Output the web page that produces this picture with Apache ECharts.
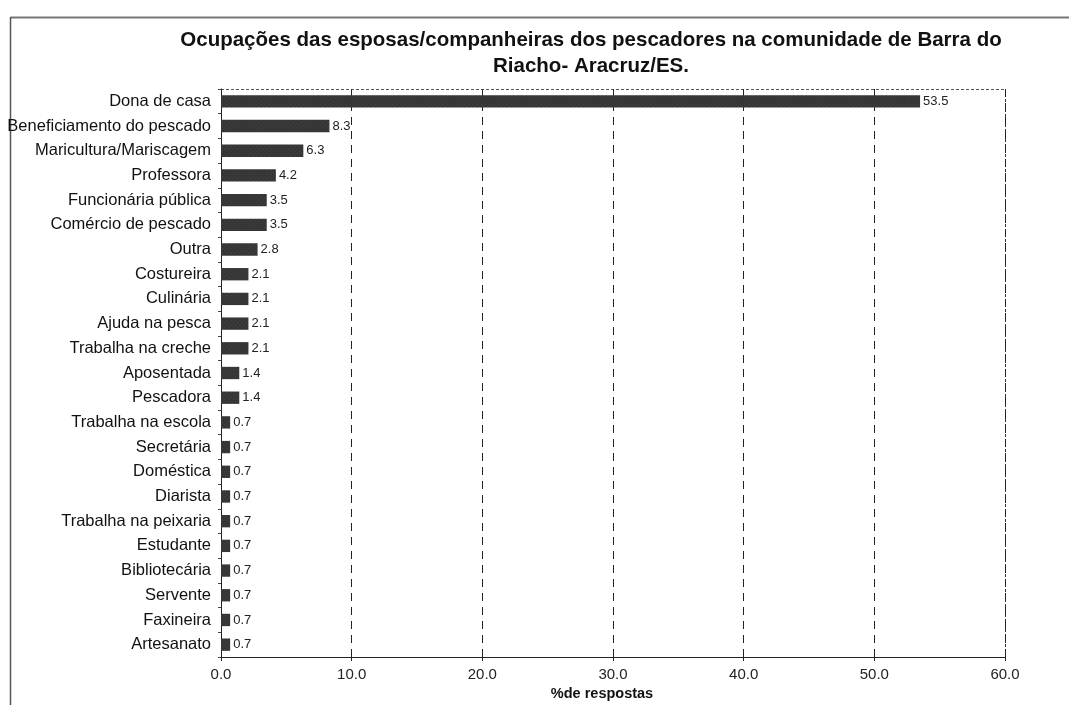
<!DOCTYPE html>
<html>
<head>
<meta charset="utf-8">
<script src="https://cdn.jsdelivr.net/npm/echarts@6/dist/echarts.min.js"></script>
<style>
  html, body { margin: 0; padding: 0; background: #fff; }
  #chart { width: 1069px; height: 705px; }
</style>
</head>
<body>
<div id="chart"></div>
<script>
// Occupations, top to bottom as listed
const categories = [
  'Dona de casa', 'Beneficiamento do pescado', 'Maricultura/Mariscagem', 'Professora',
  'Funcionária pública', 'Comércio de pescado', 'Outra', 'Costureira', 'Culinária',
  'Ajuda na pesca', 'Trabalha na creche', 'Aposentada', 'Pescadora', 'Trabalha na escola',
  'Secretária', 'Doméstica', 'Diarista', 'Trabalha na peixaria', 'Estudante',
  'Bibliotecária', 'Servente', 'Faxineira', 'Artesanato'
];
const values = [
  53.5, 8.3, 6.3, 4.2, 3.5, 3.5, 2.8, 2.1, 2.1, 2.1, 2.1, 1.4, 1.4,
  0.7, 0.7, 0.7, 0.7, 0.7, 0.7, 0.7, 0.7, 0.7, 0.7
];
const xTicks = { min: 0, max: 60, interval: 10 };
const titleLines = [
  'Ocupações das esposas/companheiras dos pescadores na comunidade de Barra do',
  'Riacho- Aracruz/ES.'
];
const xAxisName = '%de respostas';

const chart = echarts.init(document.getElementById('chart'));

chart.setOption({
  backgroundColor: '#fff',
  animation: false,
  title: {
    text: titleLines.join('\n'),
    left: 586,
    top: 22,
    textAlign: 'center',
    textStyle: {
      fontFamily: 'Liberation Sans, Arial, sans-serif',
      fontWeight: 'bold',
      fontSize: 20.5,
      lineHeight: 26,
      color: '#111'
    }
  },
  grid: { left: 221, right: 64, top: 89, bottom: 48, containLabel: false, outerBoundsMode: 'none' },
  xAxis: {
    type: 'value',
    min: xTicks.min,
    max: xTicks.max,
    interval: xTicks.interval,
    name: xAxisName,
    nameLocation: 'middle',
    nameGap: 26,
    nameTextStyle: {
      fontFamily: 'Liberation Sans, Arial, sans-serif',
      fontWeight: 'bold',
      fontSize: 14.5,
      color: '#111',
      padding: [0, 22, 0, 0]
    },
    axisLine: { show: true, lineStyle: { color: '#222', width: 1 } },
    axisTick: { show: true, length: 4, lineStyle: { color: '#222' } },
    axisLabel: {
      formatter: v => v.toFixed(1),
      fontFamily: 'Liberation Sans, Arial, sans-serif',
      fontSize: 15,
      color: '#222',
      margin: 10
    },
    splitLine: { show: true, lineStyle: { color: '#222', type: [8, 6], width: 1 } }
  },
  yAxis: {
    type: 'category',
    data: categories,
    inverse: true,
    axisLine: { show: true, lineStyle: { color: '#222', width: 1 } },
    axisTick: { show: true, length: 3, lineStyle: { color: '#444' } },
    axisLabel: {
      fontFamily: 'Liberation Sans, Arial, sans-serif',
      fontSize: 16.5,
      color: '#111',
      margin: 10
    },
    splitLine: { show: false }
  },
  series: [{
    type: 'bar',
    data: values,
    barCategoryGap: '50%',
    itemStyle: {
      color: '#353535',
      decal: {
        symbol: 'rect',
        symbolSize: 0.6,
        color: 'rgba(200,200,200,0.45)',
        dashArrayX: [1, 2],
        dashArrayY: [1, 2],
        rotation: 0.785
      }
    },
    label: {
      show: true,
      position: 'right',
      distance: 3,
      formatter: p => p.value.toFixed(1),
      fontFamily: 'Liberation Sans, Arial, sans-serif',
      fontSize: 13,
      color: '#222'
    }
  }],
  graphic: [
    // dashed frame on the top and right of the plot area
    { type: 'line', shape: { x1: 221, y1: 89.5, x2: 1005, y2: 89.5 },
      style: { stroke: '#555', lineWidth: 1, lineDash: [3, 2] } },
    { type: 'line', shape: { x1: 1005.5, y1: 89, x2: 1005.5, y2: 657 },
      style: { stroke: '#333', lineWidth: 1, lineDash: [3, 2] } },
    // outer page border
    { type: 'line', shape: { x1: 10.5, y1: 17.5, x2: 1069, y2: 17.5 },
      style: { stroke: '#777', lineWidth: 2 } },
    { type: 'line', shape: { x1: 10.5, y1: 17, x2: 10.5, y2: 705 },
      style: { stroke: '#555', lineWidth: 1.5 } }
  ]
});
</script>
</body>
</html>
